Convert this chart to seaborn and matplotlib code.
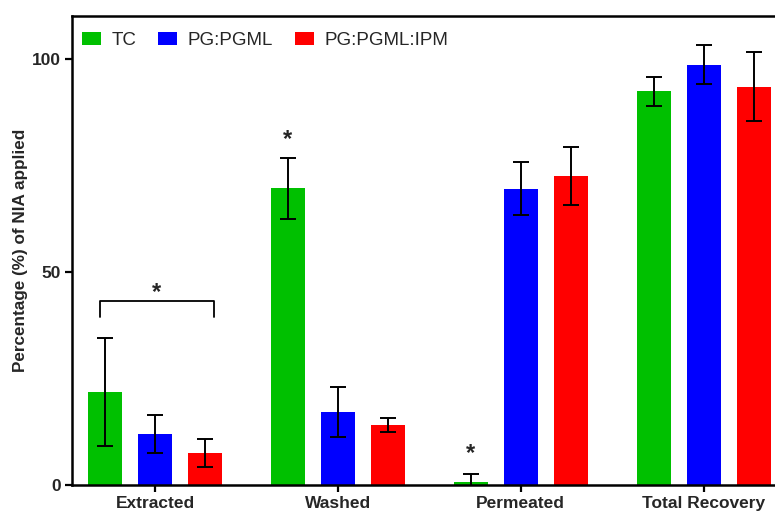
import matplotlib
matplotlib.use("Agg")
import matplotlib.pyplot as plt
import numpy as np
import pandas as pd
import seaborn as sns

categories = ["Extracted", "Washed", "Permeated", "Total Recovery"]
groups = ["TC", "PG:PGML", "PG:PGML:IPM"]
tc_mean = [21.8, 69.6, 0.8, 92.3]
tc_err = [12.7, 7.2, 1.7, 3.4]
pgml_mean = [11.9, 17.1, 69.5, 98.6]
pgml_err = [4.5, 5.8, 6.2, 4.5]
ipm_mean = [7.5, 14.1, 72.4, 93.4]
ipm_err = [3.2, 1.6, 6.8, 8.1]
colors = ["#00C000", "#0000FF", "#FF0000"]

means = [tc_mean, pgml_mean, ipm_mean]
errs = [tc_err, pgml_err, ipm_err]

df = pd.DataFrame({
    "category": categories * 3,
    "group": [g for g in groups for _ in categories],
    "value": tc_mean + pgml_mean + ipm_mean,
})

sns.set_style("ticks")
plt.rcParams["font.family"] = ["Liberation Sans", "DejaVu Sans"]

fig = plt.figure(figsize=(7.75, 5.13), dpi=100)
ax = fig.add_axes([72 / 775, 1 - 485 / 513, 1 - 72 / 775, (485 - 16) / 513])

sns.barplot(data=df, x="category", y="value", hue="group", order=categories,
            hue_order=groups, palette=colors, saturation=1, errorbar=None,
            width=0.82, gap=0.32, linewidth=0, ax=ax, legend=False)

bar_conts = list(ax.containers)
for i, cont in enumerate(bar_conts):
    xs = [b.get_x() + b.get_width() / 2 for b in cont]
    ax.errorbar(xs, means[i], yerr=errs[i], fmt="none", ecolor="black",
                elinewidth=1.4, capsize=6, capthick=1.4, zorder=3)

ax.set_ylim(0, 110)
ax.set_xlim(-0.454, 3.39)
ax.set_yticks([0, 50, 100])
ax.set_xlabel("")
ax.set_ylabel("Percentage (%) of NIA applied", fontsize=12.3, fontweight="bold", labelpad=3)
ax.tick_params(axis="both", width=1.6, length=5, labelsize=12.5, pad=3, color="black")
for lab in ax.get_xticklabels() + ax.get_yticklabels():
    lab.set_fontweight("bold")
for s in ["left", "bottom", "top"]:
    ax.spines[s].set_linewidth(1.8)
    ax.spines[s].set_color("black")
ax.spines["right"].set_visible(False)

# legend
leg = ax.legend(bar_conts, groups, ncol=3, loc="upper left",
                bbox_to_anchor=(0.014, 0.966), frameon=False, fontsize=13.5,
                handlelength=1.0, handleheight=0.64, handletextpad=0.59,
                columnspacing=1.15, borderaxespad=0, borderpad=0)

# significance markers
gx = [b.get_x() + b.get_width() / 2 for b in bar_conts[0]]
rx = [b.get_x() + b.get_width() / 2 for b in bar_conts[2]]
star_kw = dict(ha="center", va="center", fontsize=17, fontweight="bold")
ax.text(gx[1], 81.0, "*", **star_kw)
ax.text(gx[2], 7.3, "*", **star_kw)
bl, br = gx[0] - 0.03, rx[0] + 0.05
ax.plot([bl, bl, br, br], [39.4, 43.2, 43.2, 39.4], color="black", lw=1.3)
ax.text((bl + br) / 2, 45.2, "*", **star_kw)

fig.savefig("out.png", dpi=100)
